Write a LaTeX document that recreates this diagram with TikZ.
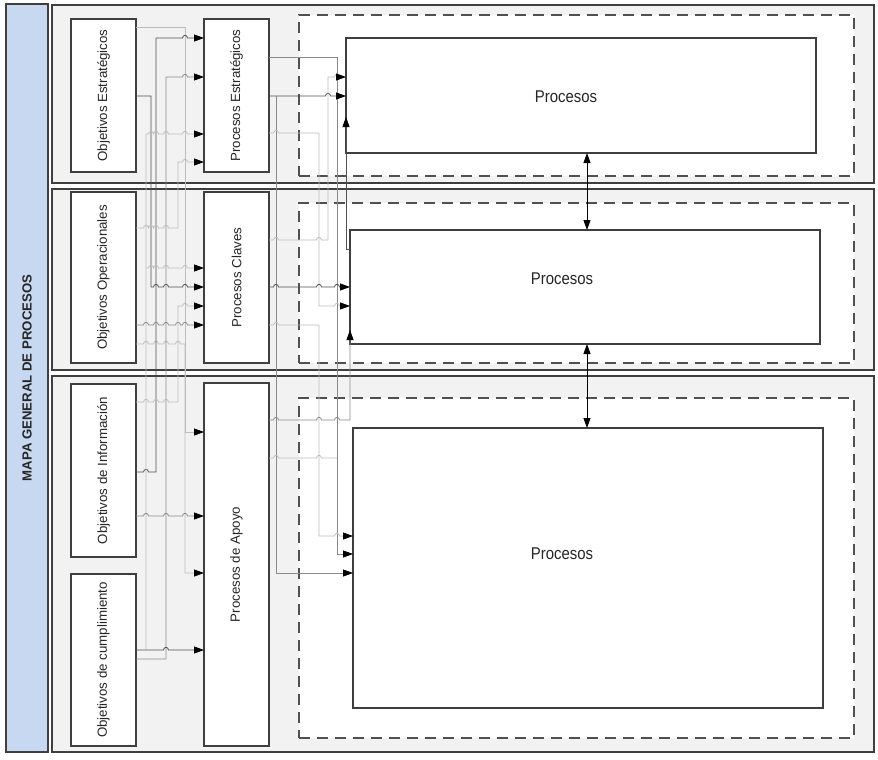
\documentclass[tikz,border=0pt]{standalone}
\usepackage{fontspec}
\usepackage{graphicx}
\setmainfont{Liberation Sans}
\usetikzlibrary{arrows.meta}
\definecolor{bandfill}{HTML}{F2F2F2}
\definecolor{titlefill}{HTML}{C6D9F1}
\definecolor{edge}{HTML}{3F3F3F}
\definecolor{cdark}{HTML}{505050}
\definecolor{cmid}{HTML}{8A8A8A}
\definecolor{clight}{HTML}{BDBDBD}
\def\jmp#1#2{-- ({#1-2.5},#2) .. controls ({#1-2.5},{#2-3.5}) and ({#1+2.5},{#2-3.5}) .. ({#1+2.5},#2)}
\begin{document}
\begin{tikzpicture}[x=1pt,y=-1pt,
 band/.style={draw=edge, line width=1.3pt, fill=bandfill, anchor=north west, inner sep=0pt, outer sep=0pt},
 titlebox/.style={draw=edge, line width=1.3pt, fill=titlefill, anchor=north west, inner sep=0pt, outer sep=0pt},
 box/.style={draw=edge, line width=1.1pt, fill=white, anchor=north west, inner sep=0pt, outer sep=0pt},
 dashbox/.style={draw=cdark, line width=1.3pt, dash pattern=on 11pt off 7pt, fill=white, anchor=north west, inner sep=0pt, outer sep=0pt},
 lab/.style={rotate=90, font=\fontsize{13.3}{16}\selectfont, text=black!85},
 ptext/.style={font=\fontsize{17}{20}\selectfont, text=black!85},
 wire/.style={line width=0.8pt},
 tip/.style={-{Triangle[length=10pt,width=7pt,color=black]}},
 dtip/.style={{Triangle[length=10pt,width=7pt,color=black]}-{Triangle[length=10pt,width=7pt,color=black]}},
]
\useasboundingbox (0,0) rectangle (878,760);
\fill[white] (0,0) rectangle (878,760);
% frame
\node[titlebox, minimum width=42pt, minimum height=748pt] (tb) at (6,4) {};
\node[rotate=90, font=\bfseries\fontsize{13.2}{16}\selectfont, text=black!85] (tt) at (27,378) {MAPA GENERAL DE PROCESOS};
\node[band, minimum width=822pt, minimum height=178pt] (b1) at (52,5) {};
\node[band, minimum width=822pt, minimum height=181pt] (b2) at (52,189) {};
\node[band, minimum width=822pt, minimum height=376pt] (b3) at (52,376) {};
% dashed areas
\node[dashbox, minimum width=555pt, minimum height=161pt] (d1) at (299,15) {};
\node[dashbox, minimum width=555pt, minimum height=160pt] (d2) at (299,203) {};
\node[dashbox, minimum width=555pt, minimum height=340pt] (d3) at (299,398) {};
% inner process boxes
\node[box, minimum width=470pt, minimum height=115pt] (p1) at (346,38) {};
\node[box, minimum width=470pt, minimum height=114pt] (p2) at (350,230) {};
\node[box, minimum width=470pt, minimum height=280pt] (p3) at (353,428) {};
\node[ptext] (t1) at (566,97) {\scalebox{0.88}[1]{Procesos}};
\node[ptext] (t2) at (562,279) {\scalebox{0.88}[1]{Procesos}};
\node[ptext] (t3) at (562,554) {\scalebox{0.88}[1]{Procesos}};
% left boxes
\node[box, minimum width=65pt, minimum height=153pt] (oe) at (71,19) {};
\node[box, minimum width=65pt, minimum height=153pt] (pe) at (204,19) {};
\node[box, minimum width=65pt, minimum height=171pt] (oo) at (71,192) {};
\node[box, minimum width=65pt, minimum height=171pt] (pc) at (204,192) {};
\node[box, minimum width=65pt, minimum height=173pt] (oi) at (71,384) {};
\node[box, minimum width=65pt, minimum height=172pt] (oc) at (71,574) {};
\node[box, minimum width=65pt, minimum height=363pt] (pa) at (204,383) {};
\node[lab] (toe) at (oe.center) {Objetivos Estratégicos};
\node[lab] (tpe) at (pe.center) {Procesos Estratégicos};
\node[lab] (too) at (oo.center) {Objetivos Operacionales};
\node[lab] (tpc) at (pc.center) {Procesos Claves};
\node[lab] (toi) at (oi.center) {Objetivos de Información};
\node[lab] (toc) at (oc.center) {Objetivos de cumplimiento};
\node[lab] (tpa) at (pa.center) {Procesos de Apoyo};
% ---- left connectors
\draw[wire,clight,tip] (oe.east |- 0,27) -- (185,27) -- (185,432) -- (pa.west |- 0,432);
\draw[wire,clight,tip] (oo.east |- 0,344) \jmp{146}{344} \jmp{156}{344} \jmp{166}{344} \jmp{178}{344} -- (185,344) -- (185,573) -- (pa.west |- 0,573);
\draw[wire,cdark,tip] (oe.east |- 0,96) -- (151,96) -- (151,287) \jmp{156}{287} \jmp{166}{287} \jmp{185}{287} -- (pc.west |- 0,287);
\draw[wire,cdark,tip] (oi.east |- 0,472) \jmp{146}{472} -- (156,472) -- (156,38) \jmp{185}{38} -- (pe.west |- 0,38);
\draw[wire,cmid,tip] (oc.east |- 0,659) -- (166,659) -- (166,77) \jmp{185}{77} -- (pe.west |- 0,77);
\draw[wire,cdark,tip] (oc.east |- 0,650) \jmp{166}{650} -- (pa.west |- 0,650);
\coordinate (cj) at (146,650);
\coordinate (cb) at (146,268);
\draw[wire,clight,tip] (cj) -- (146,134) \jmp{151}{134} \jmp{156}{134} \jmp{166}{134} \jmp{185}{134} -- (pe.west |- 0,134);
\draw[wire,clight,tip] (cb) \jmp{151}{268} \jmp{156}{268} \jmp{166}{268} \jmp{185}{268} -- (pc.west |- 0,268);
\draw[wire,clight,tip] (oo.east |- 0,228) \jmp{146}{228} \jmp{151}{228} \jmp{156}{228} \jmp{166}{228} -- (178,228) -- (178,162) \jmp{185}{162} -- (pe.west |- 0,162);
\draw[wire,cmid,tip] (oo.east |- 0,325) \jmp{146}{325} \jmp{156}{325} \jmp{166}{325} \jmp{178}{325} \jmp{185}{325} -- (pc.west |- 0,325);
\draw[wire,clight,tip] (oi.east |- 0,402) \jmp{146}{402} \jmp{156}{402} \jmp{166}{402} -- (178,402) -- (178,306) \jmp{185}{306} -- (pc.west |- 0,306);
\draw[wire,cmid,tip] (oi.east |- 0,516) \jmp{146}{516} \jmp{166}{516} \jmp{185}{516} -- (pa.west |- 0,516);
% ---- right connectors
\draw[wire,cmid,tip] (pe.east |- 0,57) -- (337,57) -- (337,554) -- (p3.west |- 0,554);
\coordinate (rb) at (276,96);
\draw[wire,cdark,tip] (pe.east |- 0,96) -- (rb) \jmp{328}{96} -- (p1.west |- 0,96);
\draw[wire,cmid,tip] (rb) -- (276,573) -- (p3.west |- 0,573);
\draw[wire,clight,tip] (pe.east |- 0,133) \jmp{276}{133} -- (319,133) -- (319,306) \jmp{337}{306} -- (p2.west |- 0,306);
\draw[wire,clight,tip] (pc.east |- 0,240) \jmp{276}{240} \jmp{319}{240} -- (328,240) -- (328,77) \jmp{337}{77} -- (p1.west |- 0,77);
\draw[wire,cdark,tip] (pc.east |- 0,287) \jmp{276}{287} \jmp{319}{287} \jmp{337}{287} -- (p2.west |- 0,287);
\draw[wire,clight,tip] (pc.east |- 0,325) \jmp{276}{325} -- (319,325) -- (319,536) \jmp{337}{536} -- (p3.west |- 0,536);
\draw[wire,cmid,tip] (pa.east |- 0,420) \jmp{276}{420} \jmp{319}{420} \jmp{337}{420} -- (p2.west |- 0,420) -- (p2.west |- 0,330);
\draw[wire,cdark,tip] (p2.west |- 0,249) -- (346,249) -- (p1.west |- 0,117);
\coordinate (rj) at (337,458);
\draw[wire,clight] (pa.east |- 0,458) \jmp{276}{458} \jmp{319}{458} -- (rj);
% ---- vertical links between process areas
\draw[line width=0.9pt,black,dtip] (p1.south -| 587,0) -- (p2.north -| 587,0);
\draw[line width=0.9pt,black,dtip] (p2.south -| 587,0) -- (p3.north -| 587,0);
\end{tikzpicture}
\end{document}
